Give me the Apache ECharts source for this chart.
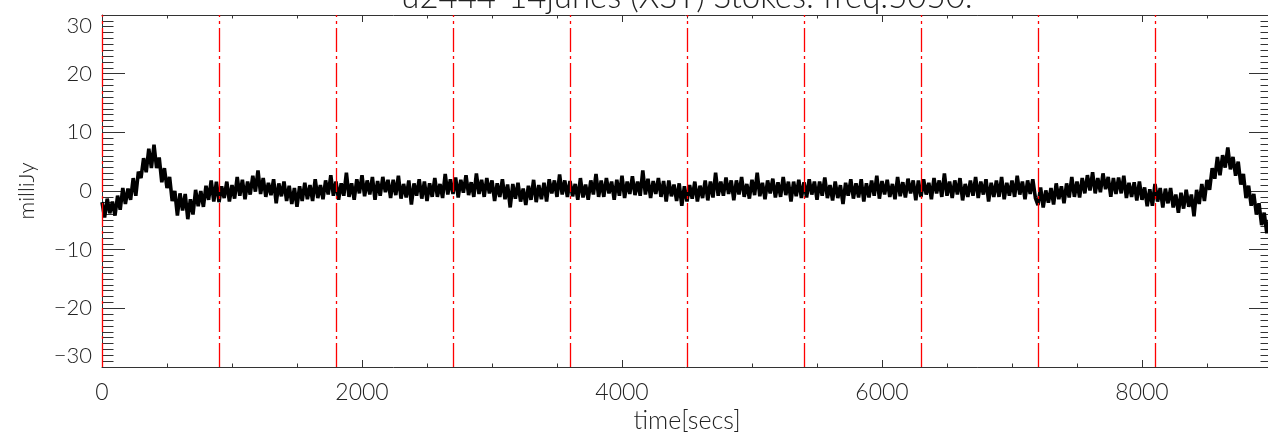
<!DOCTYPE html>
<html>
<head>
<meta charset="utf-8">
<script src="https://cdn.jsdelivr.net/npm/echarts@6/dist/echarts.min.js"></script>
<style>
html,body{margin:0;padding:0;background:#fff;}
#chart{width:1268px;height:435px;}
</style>
</head>
<body>
<div id="chart"></div>
<script>
// ---- text ----
const titleText = "u2444-14junes (XST) Stokes: freq:5050:";
const xAxisName = "time[secs]";
const yAxisName = "milliJy";

// ---- data: flux (milliJy) read every 20 s, one array per 900-s block ----
const sampleStepSecs = 20;
const flux0000 = [-1.9,-4.5,-1.3,-3.8,-1.8,-4.2,-0.8,-3.2,0.5,-2.2,
  0.4,-1.5,2.2,-0.8,3.3,2.2,5.6,3.2,7.2,3.9,
  7.9,3.9,5.7,1.5,3.9,0.5,2.4,-1.7,0.0,-4.2,
  -0.4,-3.3,-0.5,-4.8,-1.4,-4.0,0.2,-2.6,0.0,-2.7,
  0.9,-1.5,1.8,-1.8,1.6];
const flux0900 = [-1.9,0.8,-1.2,1.6,-1.8,1.0,-1.3,2.4,-0.8,1.9,
  -1.4,1.6,-0.6,2.6,-0.1,3.5,-0.5,2.2,-1.0,1.4,
  -0.7,2.0,-2.1,1.3,-0.9,1.6,-1.7,0.9,-2.2,0.5,
  -2.7,0.8,-1.7,1.4,-1.4,1.0,-1.7,2.0,-1.2,1.0,
  -1.4,1.8,-0.6,2.7,-0.8];
const flux1800 = [1.6,-1.5,1.3,-0.8,3.1,-1.0,1.3,-1.5,2.0,-0.4,
  2.7,-0.9,1.8,-0.6,2.4,-1.5,1.7,-0.8,2.4,-0.2,
  1.9,-1.2,1.9,-0.7,2.6,-1.3,1.2,-1.1,1.8,-2.3,
  1.3,-0.8,2.0,-1.3,1.6,-1.7,1.3,-1.0,2.2,-1.0,
  1.2,-1.2,2.9,-0.6,2.0];
const flux2700 = [-0.5,2.3,-1.1,1.9,-0.3,2.7,-0.7,1.5,-1.0,3.0,
  -0.5,1.9,-1.0,2.2,-0.4,1.8,-1.7,1.3,-1.0,2.0,
  -1.4,1.1,-2.8,1.2,-1.3,1.4,-1.8,0.4,-2.4,0.9,
  -1.5,1.9,-1.9,1.0,-1.4,1.4,-1.8,2.0,-0.4,1.8,
  -1.0,2.8,-0.6,1.8,-1.0];
const flux3600 = [1.7,-0.9,1.2,-1.5,2.2,-1.1,1.1,-1.5,1.8,-0.6,
  2.9,-1.0,1.8,-1.0,2.2,-0.4,1.6,-1.5,1.9,-0.8,
  2.6,-1.2,1.6,-0.5,2.5,-0.7,1.6,-0.8,3.5,-0.6,
  2.1,-1.2,1.7,-0.5,2.2,-1.0,1.7,-1.8,1.8,-0.9,
  1.1,-1.7,1.3,-2.5,0.8];
const flux4500 = [-1.8,1.0,-1.3,1.6,-1.8,0.9,-1.2,1.8,-1.6,1.6,
  -1.1,3.1,-0.8,1.6,-0.8,2.3,-0.5,1.8,-1.6,1.8,
  -0.6,2.4,-1.0,1.2,-1.3,1.9,-0.7,3.1,-0.9,1.4,
  -1.4,1.8,-0.4,2.1,-1.1,1.5,-1.0,2.4,-0.7,1.6,
  -1.8,1.6,-0.9,1.9,-1.2];
const flux5400 = [1.5,-1.1,2.0,-0.6,1.6,-1.5,1.6,-0.8,2.3,-1.2,
  1.0,-1.6,1.6,-1.2,1.0,-2.2,1.4,-0.8,2.0,-1.3,
  1.3,-1.1,2.0,-1.8,1.3,-1.1,1.8,-0.8,2.6,-1.3,
  1.7,-0.6,1.9,-1.0,1.2,-1.4,2.4,-0.9,1.5,-1.1,
  2.1,-0.4,1.8,-1.6,1.8];
const flux6300 = [-1.0,2.0,-0.6,1.4,-1.4,2.2,-0.4,1.8,-1.0,3.0,
  -0.8,1.6,-1.2,1.8,-0.6,2.2,-1.6,1.2,-1.0,1.8,
  -0.8,2.4,-1.2,1.6,-0.6,2.0,-1.8,1.4,-1.0,1.8,
  -1.0,2.4,-1.4,1.4,-0.8,1.8,-1.0,2.6,-0.6,1.6,
  -1.4,1.8,-0.5,2.0,-1.2];
const flux7200 = [-2.4,0.6,-2.8,0.1,-2.0,0.5,-2.3,1.3,-1.4,0.8,
  -2.1,1.3,-1.1,2.4,-1.0,1.6,-1.1,2.2,-0.4,2.7,
  0.1,3.2,-0.4,2.2,-0.2,3.0,0.3,2.4,-1.0,2.2,
  -0.5,2.3,-0.4,2.6,-1.2,1.4,-1.0,1.5,-1.6,1.6,
  -1.5,0.6,-2.6,0.3,-2.5];
const flux8100 = [1.2,-1.8,0.5,-2.8,0.4,-2.1,0.5,-2.8,-0.6,-3.7,
  -0.3,-3.0,0.2,-2.7,-0.6,-4.3,0.2,-2.2,1.2,-1.7,
  1.9,0.2,3.9,2.1,5.8,2.7,6.1,4.0,7.4,3.7,
  5.8,2.6,5.0,1.1,2.9,-1.2,0.9,-2.5,-0.5,-4.0,
  -2.1,-5.8,-3.7,-7.2,-4.9,-7.8];

// red dash-dot markers (secs)
const redLineTimes = [0, 900, 1800, 2700, 3600, 4500, 5400, 6300, 7200, 8100];

// axis ranges / ticks
const xMin = 0, xMax = 9000, xStep = 2000;
const yMin = -30, yMax = 30, yStep = 10;

const fluxAll = [].concat(flux0000, flux0900, flux1800, flux2700, flux3600,
  flux4500, flux5400, flux6300, flux7200, flux8100);
const seriesData = fluxAll.map((v, i) => [i * sampleStepSecs, v]);

const FONT = 'Lato';
const TXT = '#222';
const AX = '#333';

function yFmt(v) { return v < 0 ? '\u2212' + Math.abs(v) : String(v); }
function xFmt(v) { return v === xMax ? '' : String(v); }

const chart = echarts.init(document.getElementById('chart'), null, {renderer: 'canvas'});
chart.setOption({
  animation: false,
  backgroundColor: '#fff',
  title: {
    text: titleText,
    left: 687,
    textAlign: 'center',
    top: -19,
    padding: 0,
    textStyle: {fontFamily: FONT, fontWeight: 300, fontSize: 33, color: TXT}
  },
  grid: {left: 102, right: -4, top: 15, bottom: 68, containLabel: false, outerBoundsMode: 'none'},
  xAxis: [{
    type: 'value', min: xMin, max: xMax, interval: xStep,
    name: xAxisName, nameLocation: 'middle', nameGap: 40,
    nameTextStyle: {fontFamily: FONT, fontWeight: 300, fontSize: 25, color: TXT},
    axisLine: {show: true, onZero: false, lineStyle: {color: AX, width: 1}},
    axisTick: {show: true, inside: true, length: 7, lineStyle: {color: AX}},
    minorTick: {show: true, splitNumber: 4, length: 3.5, lineStyle: {color: AX}},
    axisLabel: {show: true, formatter: xFmt, margin: 14, fontFamily: FONT, fontWeight: 300, fontSize: 23, color: TXT},
    splitLine: {show: false}
  }, {
    type: 'value', min: xMin, max: xMax, interval: xStep, position: 'top',
    axisLine: {show: true, onZero: false, lineStyle: {color: AX, width: 1}},
    axisTick: {show: true, inside: true, length: 7, lineStyle: {color: AX}},
    minorTick: {show: true, splitNumber: 4, length: 3.5, lineStyle: {color: AX}},
    axisLabel: {show: false},
    splitLine: {show: false}
  }],
  yAxis: [{
    type: 'value', min: yMin, max: yMax, interval: yStep,
    name: yAxisName, nameLocation: 'middle', nameGap: 64, nameRotate: 90,
    nameTextStyle: {fontFamily: FONT, fontWeight: 300, fontSize: 22, color: TXT},
    axisLine: {show: true, onZero: false, lineStyle: {color: AX, width: 1}},
    axisTick: {show: true, inside: true, length: 23, lineStyle: {color: AX}},
    minorTick: {show: true, splitNumber: 10, length: 11.5, lineStyle: {color: AX}},
    axisLabel: {show: true, formatter: yFmt, margin: 10, fontFamily: FONT, fontWeight: 300, fontSize: 22, color: TXT,
      verticalAlignMaxLabel: 'top', verticalAlignMinLabel: 'bottom'},
    splitLine: {show: false}
  }, {
    type: 'value', min: yMin, max: yMax, interval: yStep, position: 'right',
    axisLine: {show: true, onZero: false, lineStyle: {color: AX, width: 1}},
    axisTick: {show: true, inside: true, length: 23, lineStyle: {color: AX}},
    minorTick: {show: true, splitNumber: 10, length: 11.5, lineStyle: {color: AX}},
    axisLabel: {show: false},
    splitLine: {show: false}
  }],
  series: [{
    type: 'line',
    xAxisIndex: 0, yAxisIndex: 0,
    data: seriesData,
    showSymbol: false,
    symbol: 'none',
    sampling: null,
    lineStyle: {color: '#000', width: 3.6, join: 'miter', miterLimit: 2},
    silent: true,
    markLine: {
      silent: true,
      symbol: ['none', 'none'],
      label: {show: false},
      lineStyle: {color: '#ff0000', width: 1.3, type: [24, 4, 3, 4], opacity: 1},
      data: redLineTimes.map(t => ({xAxis: t}))
    }
  }]
});
</script>
</body>
</html>
